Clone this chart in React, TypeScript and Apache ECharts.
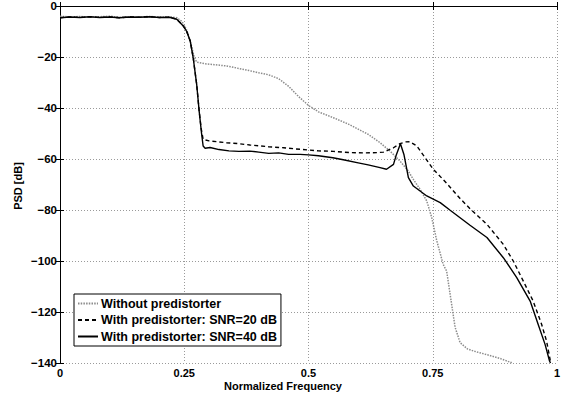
import React, { useEffect, useRef } from "react";
import * as echarts from "echarts";

// Without predistorter (dotted)
const freqNoPD = [0, 0.02, 0.04, 0.06, 0.08, 0.1, 0.12, 0.14, 0.16, 0.18, 0.2, 0.22, 0.235, 0.245, 0.25, 0.255, 0.26, 0.265, 0.27, 0.275, 0.29, 0.31, 0.335, 0.36, 0.38, 0.4, 0.42, 0.44, 0.46, 0.48, 0.5, 0.52, 0.55, 0.58, 0.62, 0.644, 0.664, 0.684, 0.7, 0.711, 0.725, 0.738, 0.748, 0.758, 0.771, 0.778, 0.788, 0.795, 0.805, 0.82, 0.832, 0.86, 0.885, 0.909];
const psdNoPD = [-4.0, -4.3, -4.1, -4.4, -4.2, -4.0, -4.4, -4.2, -4.3, -4.1, -4.3, -4.2, -4.6, -6.0, -7.5, -9.5, -12.5, -16, -20, -22, -22.6, -23, -23.5, -24.5, -25.3, -26.2, -27, -28.5, -31.5, -35.5, -39, -41.5, -43.8, -46.3, -50.3, -53.6, -56.9, -60.8, -64.5, -68, -72, -76.5, -83, -92, -101.3, -104, -117, -126, -132, -134.5, -135.3, -136.8, -138.2, -139.9];

// With predistorter, SNR = 20 dB (dashed)
const freqSNR20 = [0, 0.02, 0.04, 0.06, 0.08, 0.1, 0.12, 0.14, 0.16, 0.18, 0.2, 0.22, 0.235, 0.248, 0.255, 0.262, 0.268, 0.275, 0.28, 0.284, 0.288, 0.3, 0.335, 0.36, 0.382, 0.42, 0.45, 0.483, 0.52, 0.55, 0.583, 0.61, 0.637, 0.651, 0.671, 0.684, 0.695, 0.704, 0.718, 0.731, 0.751, 0.778, 0.805, 0.825, 0.859, 0.892, 0.912, 0.932, 0.952, 0.969, 0.979, 0.986, 0.988];
const psdSNR20 = [-4.6, -4.3, -4.5, -4.2, -4.5, -4.3, -4.6, -4.3, -4.4, -4.2, -4.5, -4.4, -5.2, -7.8, -10, -13.7, -20.3, -30.7, -41.2, -48, -52.3, -52.9, -53.6, -54, -54.5, -55.2, -55.6, -56.2, -56.8, -57, -57.5, -57.6, -57.5, -57.3, -55.6, -54, -53.3, -53.2, -54.9, -58.5, -64, -69.5, -75.5, -79.5, -85.6, -93.5, -100, -107.8, -115.7, -124.8, -131.4, -138.5, -140];

// With predistorter, SNR = 40 dB (solid)
const freqSNR40 = [0, 0.02, 0.04, 0.06, 0.08, 0.1, 0.12, 0.14, 0.16, 0.18, 0.2, 0.22, 0.235, 0.248, 0.255, 0.262, 0.268, 0.275, 0.28, 0.285, 0.288, 0.292, 0.302, 0.32, 0.34, 0.36, 0.382, 0.4, 0.42, 0.44, 0.46, 0.483, 0.5, 0.52, 0.549, 0.57, 0.6, 0.62, 0.644, 0.657, 0.671, 0.677, 0.685, 0.692, 0.701, 0.711, 0.738, 0.765, 0.785, 0.825, 0.859, 0.892, 0.919, 0.946, 0.962, 0.976, 0.985, 0.987];
const psdSNR40 = [-4.6, -4.3, -4.5, -4.2, -4.5, -4.3, -4.6, -4.3, -4.4, -4.2, -4.5, -4.4, -5.2, -7.8, -10, -13.7, -20.3, -30.7, -41.2, -50.3, -54.9, -55.8, -55.5, -56.3, -56.8, -57, -56.9, -57.3, -57.8, -57.6, -58.2, -58.2, -58.4, -58.7, -59.5, -60.3, -61.5, -62.3, -63.4, -64, -62.1, -58.2, -54, -58.2, -67.3, -70.6, -74.5, -77.1, -80.1, -86, -90.8, -98.7, -106.5, -115.7, -124.8, -132.7, -139.2, -140];

const xTicks = [0, 0.25, 0.5, 0.75, 1];
const yTicks = [-140, -120, -100, -80, -60, -40, -20, 0];

const seriesNames = [
  "Without predistorter",
  "With predistorter: SNR=20 dB",
  "With predistorter: SNR=40 dB",
];

const pairs = (xs: number[], ys: number[]) => xs.map((x, i) => [x, ys[i]]);

const FONT = "'Liberation Sans', Arial, Helvetica, sans-serif";

export default function App() {
  const ref = useRef<HTMLDivElement>(null);
  useEffect(() => {
    if (!ref.current) return;
    const chart = echarts.init(ref.current, null, { renderer: "svg" });
    const labelStyle = { fontFamily: FONT, fontWeight: "bold" as const, fontSize: 11, color: "#000" };
    const boxAxis = {
      axisLine: { show: true, lineStyle: { color: "#000", width: 1 } },
      axisTick: { show: true, inside: true, length: 4, lineStyle: { color: "#000" } },
    };
    chart.setOption({
      animation: false,
      backgroundColor: "#fff",
      grid: { left: 60, right: 10, top: 5, bottom: 35, containLabel: false },
      xAxis: [
        {
          type: "value",
          min: xTicks[0],
          max: xTicks[xTicks.length - 1],
          interval: 0.25,
          ...boxAxis,
          axisLabel: { ...labelStyle, margin: 4, formatter: (v: number) => String(v) },
          splitLine: { show: true, lineStyle: { color: "#9a9a9a", type: [1, 2], width: 1 } },
        },
        {
          type: "value",
          position: "top",
          min: xTicks[0],
          max: xTicks[xTicks.length - 1],
          interval: 0.25,
          ...boxAxis,
          axisLabel: { show: false },
          splitLine: { show: false },
        },
      ],
      yAxis: [
        {
          type: "value",
          min: yTicks[0],
          max: yTicks[yTicks.length - 1],
          interval: 20,
          ...boxAxis,
          axisLabel: { ...labelStyle, fontSize: 11.5, margin: 3, formatter: (v: number) => String(v).replace("-", "\u2212") },
          splitLine: { show: true, lineStyle: { color: "#9a9a9a", type: [1, 2], width: 1 } },
        },
        {
          type: "value",
          position: "right",
          min: yTicks[0],
          max: yTicks[yTicks.length - 1],
          interval: 20,
          ...boxAxis,
          axisLabel: { show: false },
          splitLine: { show: false },
        },
      ],
      legend: {
        orient: "vertical",
        left: 74,
        top: 294,
        backgroundColor: "#fff",
        borderColor: "#000",
        borderWidth: 1,
        borderRadius: 0,
        padding: [3, 4, 3, 3],
        itemWidth: 20,
        itemHeight: 12,
        itemGap: 3.5,
        itemStyle: { opacity: 0 },
        textStyle: { ...labelStyle, fontSize: 12.5, padding: [0, 0, 0, -2] },
        data: seriesNames,
      },
      series: [
        {
          name: seriesNames[0],
          type: "line",
          data: pairs(freqNoPD, psdNoPD),
          showSymbol: false,
          symbol: "none",
          lineStyle: { color: "#8c8c8c", width: 1.5, type: [1.5, 1.2] },
          itemStyle: { color: "#8c8c8c" },
        },
        {
          name: seriesNames[1],
          type: "line",
          data: pairs(freqSNR20, psdSNR20),
          showSymbol: false,
          symbol: "none",
          lineStyle: { color: "#000", width: 1.4, type: [4, 3] },
          itemStyle: { color: "#000" },
        },
        {
          name: seriesNames[2],
          type: "line",
          data: pairs(freqSNR40, psdSNR40),
          showSymbol: false,
          symbol: "none",
          lineStyle: { color: "#000", width: 1.4, type: "solid" },
          itemStyle: { color: "#000" },
        },
      ],
      graphic: [
        {
          type: "text",
          x: 283,
          y: 386,
          style: { text: "Normalized Frequency", font: `bold 11px ${FONT}`, fill: "#000", align: "center", verticalAlign: "middle" },
        },
        {
          type: "text",
          x: 18,
          y: 186,
          rotation: Math.PI / 2,
          style: { text: "PSD [dB]", font: `bold 11px ${FONT}`, fill: "#000", align: "center", verticalAlign: "middle" },
        },
      ],
    });
    return () => chart.dispose();
  }, []);
  return <div ref={ref} style={{ width: 567, height: 398, position: "fixed", left: 0, top: 0 }} />;
}
